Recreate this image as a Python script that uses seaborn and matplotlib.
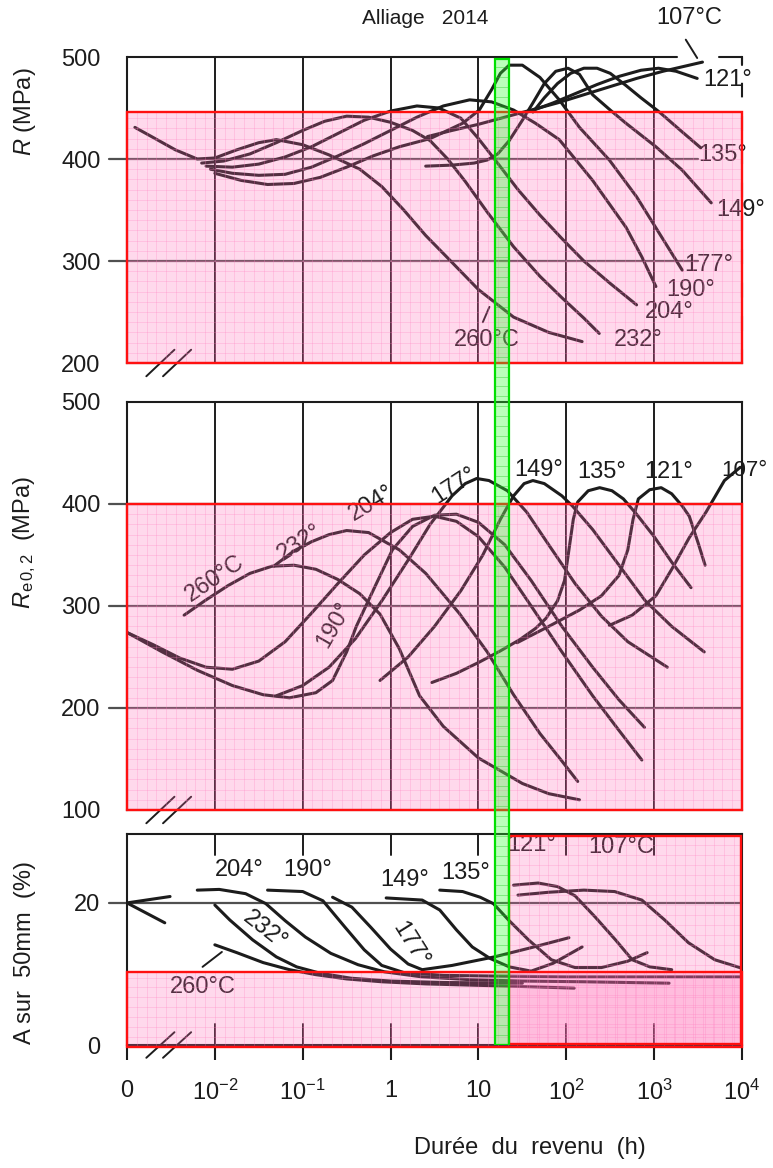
import numpy as np
import pandas as pd
import matplotlib
matplotlib.use("Agg")
import matplotlib.pyplot as plt
import seaborn as sns
from matplotlib.patches import Rectangle

# Alliage 2014 - courbes de revenu relevees sur l'abaque
# abscisse : log10(duree en h) ; l'origine "0" de l'echelle est mise a -3

temperatures = ["260", "232", "204", "190", "177", "149", "135", "121", "107"]

# --- R (MPa) ---
R_260 = [(-2.91, 431), (-2.7, 421), (-2.45, 409), (-2.2, 400), (-2.0, 401), (-1.75, 409),
         (-1.5, 416), (-1.3, 419), (-1.0, 414), (-0.7, 404), (-0.35, 390), (-0.1, 373),
         (0.15, 350), (0.4, 325), (0.65, 303), (1.0, 272), (1.4, 245), (1.8, 230), (2.18, 221)]
R_232 = [(-2.15, 396), (-1.9, 398), (-1.6, 405), (-1.3, 416), (-1.0, 428), (-0.75, 437),
         (-0.5, 442), (-0.25, 441), (0.0, 436), (0.25, 428), (0.45, 418), (0.65, 400),
         (0.85, 378), (1.1, 348), (1.4, 314), (1.7, 285), (1.95, 264), (2.2, 244), (2.375, 229)]
R_204 = [(-2.1, 393), (-1.8, 392), (-1.5, 395), (-1.2, 402), (-0.9, 412), (-0.6, 425),
         (-0.3, 438), (0.0, 447), (0.3, 452), (0.55, 450), (0.8, 440), (1.0, 420), (1.2, 398),
         (1.45, 370), (1.7, 345), (1.95, 322), (2.2, 300), (2.5, 278), (2.8, 257)]
R_190 = [(-2.05, 390), (-1.8, 386), (-1.5, 384), (-1.2, 385), (-0.9, 392), (-0.6, 403),
         (-0.3, 415), (0.0, 428), (0.3, 441), (0.6, 452), (0.9, 458), (1.15, 456), (1.4, 448),
         (1.65, 435), (1.92, 419), (2.3, 379), (2.68, 333), (2.86, 304), (3.02, 275)]
R_177 = [(-2.0, 386), (-1.7, 379), (-1.4, 375), (-1.1, 376), (-0.8, 382), (-0.5, 392),
         (-0.2, 403), (0.1, 412), (0.45, 420), (0.82, 435), (1.01, 448), (1.15, 468), (1.25, 484),
         (1.35, 492), (1.5, 492), (1.7, 480), (1.92, 458), (2.15, 431), (2.49, 399),
         (2.8, 363), (3.06, 327), (3.32, 291)]
R_149 = [(0.4, 393), (0.7, 394), (0.95, 396), (1.1, 399), (1.22, 405), (1.35, 418),
         (1.5, 438), (1.62, 455), (1.75, 474), (1.88, 486), (2.02, 489), (2.15, 483),
         (2.3, 463), (2.5, 448), (2.68, 435), (3.02, 412), (3.32, 389), (3.65, 357)]
R_135 = [(1.62, 446), (1.75, 460), (1.9, 474), (2.05, 484), (2.2, 489), (2.35, 489),
         (2.5, 484), (2.68, 472), (2.85, 460), (3.06, 446), (3.3, 428), (3.53, 411)]
R_121 = [(1.6, 447), (1.85, 455), (2.1, 464), (2.35, 473), (2.6, 481), (2.85, 487),
         (3.05, 489), (3.25, 486), (3.49, 479)]
R_107 = [(0.42, 422), (0.7, 428), (1.0, 434), (1.3, 441), (1.6, 448), (1.9, 455),
         (2.2, 463), (2.5, 471), (2.8, 479), (3.1, 486), (3.35, 491), (3.55, 495)]

# --- Re0,2 (MPa) ---
Re_260 = [(-2.35, 291), (-2.1, 306), (-1.85, 320), (-1.6, 332), (-1.35, 339), (-1.1, 340),
          (-0.85, 336), (-0.6, 326), (-0.35, 312), (-0.12, 292), (0.1, 258), (0.33, 212),
          (0.6, 182), (1.0, 151), (1.5, 126), (1.8, 116), (2.15, 110)]
Re_232 = [(-1.33, 339), (-1.1, 354), (-0.9, 363), (-0.7, 370), (-0.5, 374), (-0.25, 372),
          (0.1, 355), (0.4, 332), (0.78, 293), (1.1, 255), (1.4, 213), (1.7, 175),
          (1.95, 148), (2.13, 128)]
Re_204 = [(-3.0, 274), (-2.7, 262), (-2.4, 249), (-2.1, 240), (-1.8, 238), (-1.5, 246),
          (-1.2, 265), (-0.9, 293), (-0.6, 322), (-0.3, 350), (0.0, 372), (0.25, 385),
          (0.5, 388), (0.75, 383), (1.0, 368), (1.3, 338), (1.6, 300), (1.95, 255),
          (2.3, 212), (2.6, 178), (2.86, 149)]
Re_190 = [(-3.0, 274), (-2.6, 255), (-2.2, 237), (-1.8, 222), (-1.45, 213), (-1.15, 210),
          (-0.85, 215), (-0.66, 227), (-0.5, 255), (-0.39, 280), (-0.2, 315), (0.02, 355),
          (0.25, 378), (0.5, 389), (0.75, 390), (1.0, 382), (1.3, 360), (1.6, 325),
          (1.95, 280), (2.3, 240), (2.6, 208), (2.89, 181)]
Re_177 = [(-1.3, 212), (-1.0, 222), (-0.7, 240), (-0.4, 268), (-0.1, 305), (0.2, 345),
          (0.45, 380), (0.7, 408), (0.85, 420), (0.98, 425), (1.12, 423), (1.33, 413),
          (1.55, 392), (1.8, 360), (2.1, 322), (2.4, 290), (2.7, 265), (3.15, 240)]
Re_149 = [(-0.12, 227), (0.2, 250), (0.5, 280), (0.8, 315), (1.05, 350), (1.25, 385),
          (1.4, 408), (1.52, 420), (1.62, 423), (1.75, 420), (1.95, 408), (2.07, 398),
          (2.3, 375), (2.6, 340), (2.9, 305), (3.2, 280), (3.57, 255)]
Re_135 = [(0.47, 225), (0.75, 234), (1.01, 245), (1.25, 256), (1.47, 267), (1.65, 278),
          (1.77, 288), (1.9, 305), (1.98, 325), (2.03, 355), (2.08, 385), (2.13, 402),
          (2.25, 413), (2.38, 416), (2.52, 413), (2.65, 405), (2.8, 390), (3.0, 368),
          (3.2, 343), (3.42, 318)]
Re_121 = [(1.44, 264), (1.8, 280), (2.15, 296), (2.4, 310), (2.6, 330), (2.7, 355),
          (2.76, 385), (2.82, 405), (2.95, 414), (3.08, 416), (3.2, 410), (3.32, 398),
          (3.4, 388), (3.5, 362), (3.58, 340)]
Re_107 = [(2.49, 281), (2.75, 291), (3.02, 310), (3.2, 336), (3.4, 367), (3.59, 392),
          (3.8, 423), (3.98, 436)]

# --- A sur 50 mm (%) ---
A_depart_haut = [(-3.0, 20.0), (-2.51, 20.9)]
A_depart_bas = [(-3.0, 20.0), (-2.57, 17.2)]
A_260 = [(-2.0, 14.1), (-1.75, 13.0), (-1.45, 11.6), (-1.15, 10.6), (-0.85, 9.9), (-0.5, 9.3),
         (-0.1, 8.9), (0.4, 8.6), (1.0, 8.4), (1.6, 8.2), (2.09, 8.0)]
A_232 = [(-2.0, 19.7), (-1.83, 17.6), (-1.57, 14.8), (-1.3, 12.4), (-1.07, 11.0), (-0.8, 10.1),
         (-0.45, 9.4), (0.0, 9.0), (0.6, 8.8), (1.5, 8.7)]
A_204 = [(-2.2, 21.8), (-1.95, 21.9), (-1.65, 21.3), (-1.42, 19.9), (-1.2, 17.5), (-0.97, 15.2),
         (-0.68, 12.9), (-0.37, 11.3), (-0.07, 10.3), (0.35, 9.6), (0.9, 9.2), (1.5, 9.0),
         (2.2, 8.9), (3.17, 8.7)]
A_190 = [(-1.4, 21.8), (-1.0, 21.6), (-0.77, 20.3), (-0.52, 16.6), (-0.3, 13.4), (-0.1, 11.2),
         (0.15, 10.2), (0.6, 9.8), (1.2, 9.7), (2.0, 9.6), (3.0, 9.6), (4.0, 9.6)]
A_177 = [(-0.66, 20.8), (-0.44, 19.4), (-0.22, 16.5), (0.0, 13.5), (0.2, 11.4), (0.36, 10.6),
         (0.7, 11.2), (1.18, 12.4), (1.6, 13.7), (2.03, 15.1)]
A_149 = [(-0.05, 20.7), (0.36, 20.4), (0.56, 19.0), (0.75, 16.2), (0.93, 13.8), (1.13, 12.2),
         (1.35, 11.0), (1.6, 10.4), (1.85, 11.5), (2.18, 13.8)]
A_135 = [(0.56, 21.8), (0.82, 21.6), (1.02, 20.8), (1.17, 19.9), (1.35, 17.5), (1.57, 14.8),
         (1.83, 12.0), (2.1, 10.9), (2.4, 10.9), (2.7, 11.8), (2.92, 13.0)]
A_121 = [(1.4, 22.5), (1.68, 22.8), (1.9, 22.3), (2.1, 21.0), (2.33, 18.0), (2.56, 14.8),
         (2.75, 12.0), (2.95, 11.0), (3.2, 10.6)]
A_107 = [(1.45, 21.1), (1.8, 21.5), (2.2, 21.8), (2.55, 21.6), (2.86, 20.4), (3.12, 17.6),
         (3.39, 14.4), (3.69, 12.0), (4.0, 10.8)]

decades = [-3, -2, -1, 0, 1, 2, 3, 4]
etiquettes_x = ["0", "$10^{-2}$", "$10^{-1}$", "1", "10", "$10^{2}$", "$10^{3}$", "$10^{4}$"]

courbes_R = dict(zip(temperatures, [R_260, R_232, R_204, R_190, R_177, R_149, R_135, R_121, R_107]))
courbes_Re = dict(zip(temperatures, [Re_260, Re_232, Re_204, Re_190, Re_177, Re_149, Re_135, Re_121, Re_107]))
courbes_A = dict(zip(temperatures, [A_260, A_232, A_204, A_190, A_177, A_149, A_135, A_121, A_107]))
courbes_A["depart_haut"] = A_depart_haut
courbes_A["depart_bas"] = A_depart_bas

ENCRE = "#1c1c1c"
GRIS = "#505050"
ROSE = "#ff69b4"

sns.set_style("white")
plt.rcParams["font.family"] = ["Liberation Sans", "DejaVu Sans"]
plt.rcParams["mathtext.fontset"] = "custom"
plt.rcParams["mathtext.rm"] = "Liberation Sans"
plt.rcParams["mathtext.it"] = "Liberation Sans:italic"
plt.rcParams["mathtext.bf"] = "Liberation Sans:bold"

W, H = 773, 1168
fig = plt.figure(figsize=(W / 100, H / 100), dpi=100)


def cadre(x0, y0, x1, y1):
    return [x0 / W, 1 - y1 / H, (x1 - x0) / W, (y1 - y0) / H]


ax1 = fig.add_axes(cadre(127, 57, 742, 363))
ax2 = fig.add_axes(cadre(127, 402, 742, 810))
ax3 = fig.add_axes(cadre(127, 834, 742, 1045))


def tableau(courbes):
    lignes = [(nom, x, y) for nom, pts in courbes.items() for x, y in pts]
    return pd.DataFrame(lignes, columns=["courbe", "duree", "valeur"])


def tracer(ax, courbes):
    sns.lineplot(data=tableau(courbes), x="duree", y="valeur", units="courbe",
                 estimator=None, sort=False, color=ENCRE, lw=2.2, ax=ax,
                 legend=False, zorder=3)


def habiller(ax, yticks, ylim):
    ax.set_xlim(-3, 4)
    ax.set_ylim(*ylim)
    ax.set_xlabel("")
    ax.set_ylabel("")
    ax.set_yticks(yticks)
    ax.set_xticks(decades)
    ax.tick_params(axis="y", direction="out", length=12, width=1.5, labelsize=17,
                   pad=7, colors=ENCRE)
    ax.tick_params(axis="x", bottom=False, labelbottom=False)
    for s in ax.spines.values():
        s.set_color(ENCRE)
        s.set_linewidth(1.5)
        s.set_zorder(2)


def coupure(ax, dy):
    y0 = ax.get_ylim()[0]
    for xc in (-2.62, -2.43):
        ax.plot([xc - 0.16, xc + 0.16], [y0 - dy, y0 + dy], color=ENCRE, lw=1.4,
                clip_on=False, zorder=4)


def voile_rose(ax, x0, x1, y0, y1, pas_y):
    ax.add_patch(Rectangle((x0, y0), x1 - x0, y1 - y0, facecolor=ROSE, alpha=0.25,
                           edgecolor="none", zorder=5, clip_on=False))
    for gx in np.arange(x0 + 1 / 9, x1, 1 / 9):
        ax.plot([gx, gx], [y0, y1], color="#ff7fbf", lw=0.5, alpha=0.38, zorder=6, clip_on=False)
    for gy in np.arange(y0 + pas_y, y1, pas_y):
        ax.plot([x0, x1], [gy, gy], color="#ff7fbf", lw=0.5, alpha=0.38, zorder=6, clip_on=False)
    ax.add_patch(Rectangle((x0, y0), x1 - x0, y1 - y0, fill=False, edgecolor="#ff1010",
                           lw=1.7, zorder=7, clip_on=False))


def ecrire(ax, texte, x, y, rot=0, taille=17):
    ax.text(x, y, texte, fontsize=taille, color=ENCRE, rotation=rot, ha="center",
            va="center", zorder=4, rotation_mode="anchor")


# ---------- R ----------
tracer(ax1, courbes_R)
habiller(ax1, [200, 300, 400, 500], (200, 500))
for d in range(-2, 4):
    ax1.axvline(d, color=ENCRE, lw=1.4, zorder=2)
for v in (300, 400):
    ax1.plot([-3.2, 3.5], [v, v], color=GRIS, lw=1.6, zorder=2, clip_on=False)
ax1.spines["top"].set_visible(False)
ax1.plot([-3, 3.26], [500, 500], color=ENCRE, lw=1.5, zorder=2, clip_on=False)
ax1.plot([3.74, 4.0, 4.0], [500, 500, 492], color=ENCRE, lw=1.5, zorder=2, clip_on=False)
ax1.spines["right"].set_linestyle((0, (6, 10)))
coupure(ax1, 13)
for txt, x, y in [("107°C", 3.40, 538), ("121°", 3.84, 477), ("135°", 3.78, 404),
                  ("149°", 3.98, 350), ("177°", 3.62, 296), ("190°", 3.41, 272),
                  ("204°", 3.17, 250), ("232°", 2.82, 223), ("260°C", 1.09, 223)]:
    ecrire(ax1, txt, x, y)
ax1.plot([3.36, 3.49], [517, 499], color=ENCRE, lw=1.4, clip_on=False, zorder=4)
ax1.plot([1.05, 1.125], [240, 255], color=ENCRE, lw=1.4, zorder=4)
voile_rose(ax1, -3, 4, 200, 446, 10)

# ---------- Re0,2 ----------
tracer(ax2, courbes_Re)
habiller(ax2, [100, 200, 300, 400, 500], (100, 500))
for d in range(-2, 4):
    ax2.axvline(d, color=ENCRE, lw=1.4, zorder=2)
for v in (200, 300, 400):
    ax2.plot([-3.2, 4], [v, v], color=GRIS, lw=1.6, zorder=2, clip_on=False)
coupure(ax2, 13)
for txt, x, y, r in [("260°C", -2.0, 327, 34), ("232°", -1.03, 362, 33), ("204°", -0.22, 401, 31),
                     ("177°", 0.73, 418, 33), ("149°", 1.69, 433, 0), ("135°", 2.40, 431, 0),
                     ("121°", 3.17, 431, 0), ("190°", -0.64, 281, 60)]:
    ecrire(ax2, txt, x, y, r)
ax2.text(3.76, 433, "107°", fontsize=16, color=ENCRE, ha="left", va="center", zorder=4,
         clip_on=False)
voile_rose(ax2, -3, 4, 100, 400, 10)

# ---------- A ----------
tracer(ax3, courbes_A)
habiller(ax3, [0, 20], (0, 29.7))
for d in range(-2, 4):
    ax3.plot([d, d], [29.7, 26.8], color=ENCRE, lw=1.4, zorder=2)
    ax3.plot([d, d], [0, 3.0], color=ENCRE, lw=1.4, zorder=2)
ax3.plot([-3.2, 4], [20, 20], color=GRIS, lw=1.6, zorder=2, clip_on=False)
ax3.tick_params(axis="x", bottom=True, labelbottom=True, direction="out", length=11,
                width=1.5, labelsize=17, pad=14, colors=ENCRE)
ax3.set_xticklabels(etiquettes_x)
coupure(ax3, 1.8)
for txt, x, y, r in [("204°", -1.72, 24.6, 0), ("190°", -0.94, 24.6, 0), ("149°", 0.16, 23.2, 0),
                     ("135°", 0.85, 24.2, 0), ("121°", 1.61, 28.2, 0), ("107°C", 2.63, 27.9, 0),
                     ("232°", -1.43, 16.2, -38), ("177°", 0.22, 14.1, -58), ("260°C", -2.14, 8.2, 0)]:
    ecrire(ax3, txt, x, y, r)
ax3.plot([-2.14, -1.92], [11.0, 13.1], color=ENCRE, lw=1.4, zorder=4)
voile_rose(ax3, -3, 4, -0.3, 10.3, 1.4)
voile_rose(ax3, 1.352, 3.99, 0.1, 29.4, 1.4)

# ---------- bandeau vert commun ----------
ov = fig.add_axes(cadre(127, 57, 742, 1045), zorder=10)
ov.set_xlim(-3, 4)
ov.set_ylim(0, 1)
ov.axis("off")
ov.add_patch(Rectangle((1.19, 0), 0.16, 0.998, facecolor="#33ff33", alpha=0.33,
                       edgecolor="none"))
for gy in np.arange(0.01, 0.998, 0.0101):
    ov.plot([1.19, 1.35], [gy, gy], color="#22cc22", lw=0.6, alpha=0.45)
ov.add_patch(Rectangle((1.19, 0), 0.16, 0.998, fill=False, edgecolor="#00e000", lw=1.6))

# ---------- textes ----------
fig.text(425 / W, 1 - 18 / H, "Alliage   2014", fontsize=15, color=ENCRE, ha="center", va="center")
fig.text(25 / W, 1 - 112 / H, "$R$ (MPa)", fontsize=17, color=ENCRE, rotation=90,
         ha="center", va="center")
fig.text(25 / W, 1 - 542 / H, r"$R_{\mathrm{e}\,\mathrm{0,2}}$  (MPa)", fontsize=17, color=ENCRE,
         rotation=90, ha="center", va="center")
fig.text(25 / W, 1 - 953 / H, "A sur  50mm  (%)", fontsize=17, color=ENCRE, rotation=90,
         ha="center", va="center")
fig.text(530 / W, 1 - 1148 / H, "Durée  du  revenu  (h)", fontsize=17, color=ENCRE,
         ha="center", va="center")

fig.savefig("out.png", dpi=100)
